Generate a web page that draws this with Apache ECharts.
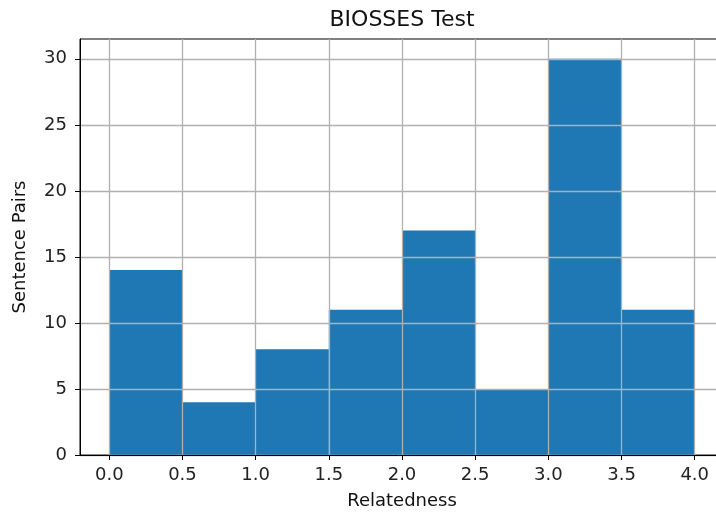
<!DOCTYPE html>
<html><head><meta charset="utf-8">
<script src="https://cdn.jsdelivr.net/npm/echarts@6/dist/echarts.min.js"></script>
<style>html,body{margin:0;padding:0;background:#fff}#c{width:716px;height:517px}</style>
</head><body><div id="c"></div>
<script>
const binStarts = [0.0, 0.5, 1.0, 1.5, 2.0, 2.5, 3.0, 3.5];
const binEnds   = [0.5, 1.0, 1.5, 2.0, 2.5, 3.0, 3.5, 4.0];
const counts    = [14, 4, 8, 11, 17, 5, 30, 11];
const xTicks = [0.0, 0.5, 1.0, 1.5, 2.0, 2.5, 3.0, 3.5, 4.0];
const yTicks = [0, 5, 10, 15, 20, 25, 30];

const data = binStarts.map((s, i) => [s, binEnds[i], counts[i]]);
const font = 'DejaVu Sans';
const chart = echarts.init(document.getElementById('c'), null, {renderer: 'canvas'});
chart.setOption({
  animation: false,
  title: {text: 'BIOSSES Test', left: 397, top: 4, textAlign: 'center',
    textStyle: {fontFamily: font, fontSize: 22, fontWeight: 'normal', color: '#111'}},
  grid: {left: 80, width: 644, top: 39, height: 416, containLabel: false, outerBoundsMode: 'none',
    show: true, borderColor: '#000', borderWidth: 1, backgroundColor: 'transparent'},
  xAxis: {
    type: 'value', min: -0.2, max: 4.2, z: 5,
    axisLine: {show: true, onZero: false, lineStyle: {color: '#000', width: 1}},
    axisTick: {show: true, length: 5, lineStyle: {color: '#000'}, customValues: xTicks},
    axisLabel: {customValues: xTicks, fontFamily: font, fontSize: 18, color: '#222', margin: 11,
      formatter: v => v.toFixed(1)},
    splitLine: {show: true, lineStyle: {color: '#b0b0b0', width: 1.3}},
    name: 'Relatedness', nameLocation: 'middle', nameGap: 37,
    nameTextStyle: {fontFamily: font, fontSize: 18, color: '#111'}
  },
  yAxis: {
    type: 'value', min: 0, max: 31.5, interval: 5, z: 5,
    axisLine: {show: true, onZero: false, lineStyle: {color: '#000', width: 1}},
    axisTick: {show: true, length: 5, lineStyle: {color: '#000'}, customValues: yTicks},
    axisLabel: {customValues: yTicks, fontFamily: font, fontSize: 18, color: '#222', margin: 13},
    splitLine: {show: true, lineStyle: {color: '#b0b0b0', width: 1.3}},
    name: 'Sentence Pairs', nameLocation: 'middle', nameGap: 51, nameRotate: 90,
    nameTextStyle: {fontFamily: font, fontSize: 18, color: '#111'}
  },
  series: [{
    type: 'custom', z: 2,
    data: data,
    encode: {x: [0, 1], y: 2},
    renderItem: (params, api) => {
      const p0 = api.coord([api.value(0), 0]);
      const p1 = api.coord([api.value(1), api.value(2)]);
      return {type: 'rect', shape: {x: p0[0], y: p1[1], width: p1[0] - p0[0], height: p0[1] - p1[1]},
        style: {fill: '#1f77b4'}};
    }
  }]
});
</script></body></html>
